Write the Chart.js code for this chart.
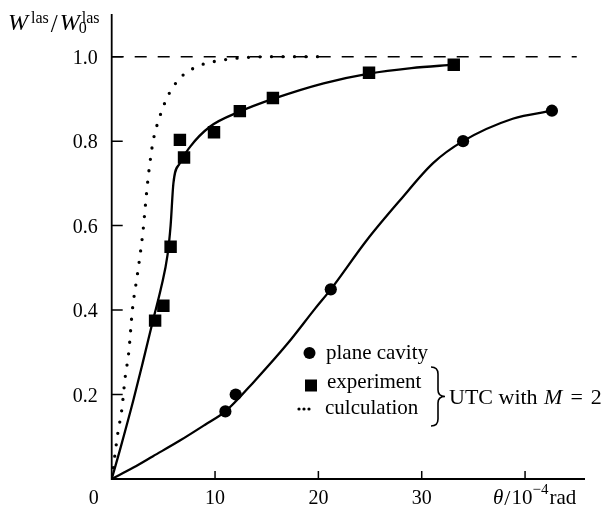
<!DOCTYPE html>
<html>
<head>
<meta charset="utf-8">
<script src="https://cdn.jsdelivr.net/npm/chart.js@4.4.1/dist/chart.umd.min.js"></script>
<style>
  html, body { margin: 0; padding: 0; background: #fff; }
  canvas { display: block; }
</style>
</head>
<body>
<canvas id="chart" width="611" height="508"></canvas>
<script>
// axis ticks
const xTicks = [10, 20, 30, 40];
const xTickLabels = ['10', '20', '30', ''];
const yTicks = [0.2, 0.4, 0.6, 0.8, 1.0];
const yTickLabels = ['0.2', '0.4', '0.6', '0.8', '1.0'];

// plane cavity: measured points and drawn curve
const planeX = [11.0, 12.0, 21.2, 34.0, 42.6];
const planeY = [0.160, 0.200, 0.449, 0.800, 0.872];
const planeCurveX = [0, 2.1, 4.0, 6.6, 9.0, 11.0, 13.9, 17.0, 19.7, 21.2, 24.7, 27.9, 31.1, 34.0, 38.8, 42.6];
const planeCurveY = [0, 0.027, 0.054, 0.091, 0.128, 0.160, 0.234, 0.320, 0.404, 0.449, 0.566, 0.660, 0.748, 0.800, 0.853, 0.872];

// experiment (UTC, M = 2)
const expX = [4.2, 5.0, 5.7, 6.6, 7.0, 9.9, 12.4, 15.6, 24.9, 33.1];
const expY = [0.375, 0.410, 0.550, 0.803, 0.761, 0.821, 0.871, 0.902, 0.962, 0.981];
const expCurveX = [0, 0.8, 2.1, 3.0, 4.0, 4.8, 5.4, 5.7, 5.97, 6.6, 7.6, 9.5, 12.4, 15.6, 20.5, 24.9, 29.0, 33.1];
const expCurveY = [0, 0.069, 0.187, 0.275, 0.376, 0.455, 0.530, 0.600, 0.700, 0.748, 0.787, 0.834, 0.870, 0.900, 0.937, 0.960, 0.973, 0.981];

// calculation (UTC, M = 2)
const calcX = [0, 0.3, 0.6, 0.97, 1.3, 1.65, 2.0, 2.48, 2.8, 3.06, 3.25, 3.45, 3.7, 4.03, 4.6, 5.4, 6.6, 8.4, 10.5, 13.0, 16.0, 20.5];
const calcY = [0, 0.055, 0.110, 0.163, 0.240, 0.300, 0.400, 0.483, 0.540, 0.594, 0.645, 0.696, 0.749, 0.803, 0.854, 0.905, 0.949, 0.978, 0.991, 0.998, 1.0, 1.0];

// reference level W = W0
const refX = [0, 45];
const refY = [1.0, 1.0];

const legendLabels = ['plane cavity', 'experiment', 'culculation'];

const FONT = '"Liberation Serif", "DejaVu Serif", serif';
const INK = '#000';

function pts(xs, ys) {
    return xs.map((x, i) => ({ x, y: ys[i] }));
}

// axes, tick marks, labels, legend
const paperAxes = {
    id: 'paperAxes',
    beforeDatasetsDraw(chart) {
        const c = chart.ctx;
        const sx = chart.scales.x, sy = chart.scales.y;
        const x0 = sx.getPixelForValue(0), y0 = sy.getPixelForValue(0);
        c.save();
        c.strokeStyle = INK;
        c.lineWidth = 1.8;
        c.beginPath();
        c.moveTo(x0, sy.getPixelForValue(sy.max));
        c.lineTo(x0, y0);
        c.lineTo(sx.getPixelForValue(sx.max), y0);
        c.stroke();
        c.lineWidth = 1.5;
        c.beginPath();
        xTicks.forEach(v => {
            const px = sx.getPixelForValue(v);
            c.moveTo(px, y0);
            c.lineTo(px, y0 - 8);
        });
        yTicks.forEach(v => {
            const py = sy.getPixelForValue(v);
            c.moveTo(x0, py);
            c.lineTo(x0 + 11, py);
        });
        c.stroke();
        c.restore();
    },
    afterDraw(chart) {
        const c = chart.ctx;
        const sx = chart.scales.x, sy = chart.scales.y;
        const x0 = sx.getPixelForValue(0), y0 = sy.getPixelForValue(0);
        c.save();
        c.fillStyle = INK;
        c.strokeStyle = INK;
        c.font = '20px ' + FONT;
        c.textBaseline = 'alphabetic';

        // y tick labels
        c.textAlign = 'right';
        yTicks.forEach((v, i) => {
            c.fillText(yTickLabels[i], x0 - 14, sy.getPixelForValue(v) + 7);
        });
        // x tick labels
        c.textAlign = 'center';
        c.fillText('0', x0 - 18, y0 + 25);
        xTicks.forEach((v, i) => {
            if (xTickLabels[i]) c.fillText(xTickLabels[i], sx.getPixelForValue(v), y0 + 25);
        });

        // x title: θ/10^-4 rad
        c.textAlign = 'left';
        let tx = 493;
        const ty = y0 + 25;
        c.font = 'italic 21px ' + FONT;
        c.fillText('θ', tx, ty); tx += c.measureText('θ').width + 1;
        c.font = '22px ' + FONT;
        c.fillText('/', tx, ty + 1); tx += c.measureText('/').width + 1;
        c.font = '21px ' + FONT;
        c.fillText('10', tx, ty); tx += c.measureText('10').width;
        c.font = '15px ' + FONT;
        c.fillText('−4', tx, ty - 10); tx += c.measureText('−4').width + 1;
        c.font = '21px ' + FONT;
        c.fillText('rad', tx, ty);

        // y title: W^las / W0^las
        tx = 8;
        const by = 30;
        c.font = 'italic 24px ' + FONT;
        c.fillText('W', tx, by); tx += c.measureText('W').width + 3;
        c.font = '16px ' + FONT;
        c.fillText('las', tx, by - 7); tx += c.measureText('las').width + 2;
        c.font = '25px ' + FONT;
        c.fillText('/', tx, by + 2); tx += c.measureText('/').width + 2;
        c.font = 'italic 24px ' + FONT;
        c.fillText('W', tx, by); tx += c.measureText('W').width - 1;
        c.font = '16px ' + FONT;
        c.fillText('0', tx, by + 3);
        c.fillText('las', tx + 3, by - 7);

        // legend
        c.font = '21px ' + FONT;
        c.beginPath();
        c.arc(309.5, 353, 6, 0, Math.PI * 2);
        c.fill();
        c.fillText(legendLabels[0], 326, 359);
        c.fillRect(305, 379.5, 12, 12);
        c.fillText(legendLabels[1], 327, 388);
        [299, 304, 309].forEach(dx => {
            c.beginPath();
            c.arc(dx, 409, 1.6, 0, Math.PI * 2);
            c.fill();
        });
        c.fillText(legendLabels[2], 325, 414);

        // brace
        c.lineWidth = 1.6;
        c.beginPath();
        c.moveTo(431, 367);
        c.quadraticCurveTo(438, 367, 438, 374);
        c.lineTo(438, 390);
        c.quadraticCurveTo(438, 396.5, 445, 396.5);
        c.quadraticCurveTo(438, 396.5, 438, 403);
        c.lineTo(438, 419);
        c.quadraticCurveTo(438, 426, 431, 426);
        c.stroke();

        tx = 449;
        const uy = 404;
        c.font = '22px ' + FONT;
        c.fillText('UTC with ', tx, uy); tx += c.measureText('UTC with ').width + 1;
        c.font = 'italic 22px ' + FONT;
        c.fillText('M', tx, uy); tx += c.measureText('M').width + 8;
        c.font = '22px ' + FONT;
        c.fillText('=', tx, uy); tx += c.measureText('=').width + 8;
        c.fillText('2', tx, uy);
        c.restore();
    }
};

new Chart(document.getElementById('chart').getContext('2d'), {
    type: 'line',
    data: {
        datasets: [
            {
                data: pts(refX, refY),
                borderColor: INK,
                borderWidth: 1.5,
                borderDash: [12, 11],
                pointRadius: 0
            },
            {
                data: pts(calcX, calcY),
                borderColor: INK,
                borderWidth: 3.3,
                borderDash: [0, 11.5],
                borderCapStyle: 'round',
                cubicInterpolationMode: 'monotone',
                pointRadius: 0
            },
            {
                data: pts(expCurveX, expCurveY),
                borderColor: INK,
                borderWidth: 2.3,
                cubicInterpolationMode: 'monotone',
                pointRadius: 0
            },
            {
                data: pts(planeCurveX, planeCurveY),
                borderColor: INK,
                borderWidth: 2.3,
                cubicInterpolationMode: 'monotone',
                pointRadius: 0
            },
            {
                data: pts(expX, expY),
                showLine: false,
                pointStyle: 'rect',
                pointRadius: 8.8,
                pointBackgroundColor: INK,
                pointBorderWidth: 0
            },
            {
                data: pts(planeX, planeY),
                showLine: false,
                pointStyle: 'circle',
                pointRadius: 6.1,
                pointBackgroundColor: INK,
                pointBorderWidth: 0
            }
        ]
    },
    options: {
        responsive: false,
        animation: false,
        events: [],
        layout: { padding: { left: 111.7, right: 26, top: 14, bottom: 29 } },
        plugins: { legend: { display: false }, tooltip: { enabled: false } },
        scales: {
            x: { type: 'linear', min: 0, max: 45.8, display: false },
            y: { type: 'linear', min: 0, max: 1.101, display: false }
        }
    },
    plugins: [paperAxes]
});
</script>
</body>
</html>
